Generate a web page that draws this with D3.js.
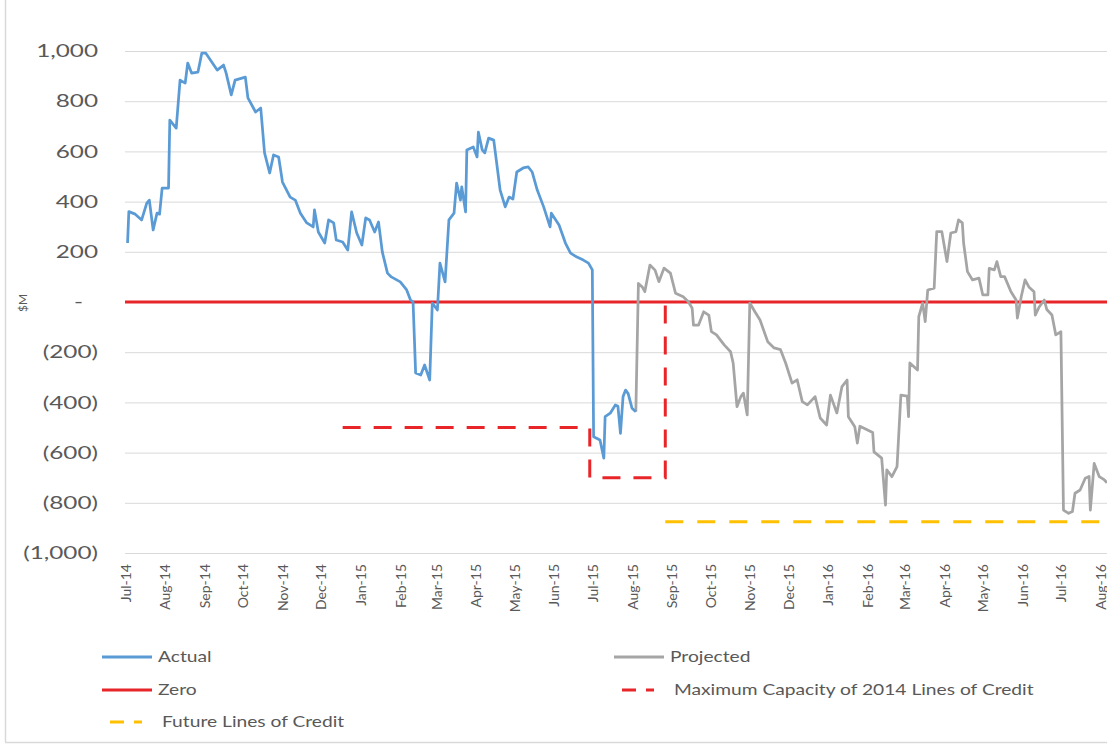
<!DOCTYPE html>
<html>
<head>
<meta charset="utf-8">
<script src="https://cdn.jsdelivr.net/npm/d3@7"></script>
<style>
  body { margin: 0; background: #ffffff; }
  svg { display: block; }
  text { font-family: Lato, "Open Sans", sans-serif; fill: #595959; }
</style>
</head>
<body>
<svg id="chart" width="1107" height="747"></svg>
<script>
// ---- Cash balance, $M ----
const actualDates = [
  "2014-07-03","2014-07-04","2014-07-09","2014-07-14","2014-07-18","2014-07-20","2014-07-23","2014-07-26","2014-07-28","2014-07-30",
  "2014-08-04","2014-08-05","2014-08-10","2014-08-13","2014-08-17","2014-08-19","2014-08-22","2014-08-27","2014-08-30",
  "2014-09-02","2014-09-11","2014-09-16","2014-09-18","2014-09-22","2014-09-25",
  "2014-10-03","2014-10-05","2014-10-11","2014-10-15","2014-10-18","2014-10-22","2014-10-25","2014-10-29",
  "2014-11-01","2014-11-07","2014-11-11","2014-11-15","2014-11-20","2014-11-25","2014-11-26","2014-11-29",
  "2014-12-04","2014-12-07","2014-12-11","2014-12-13","2014-12-18","2014-12-22","2014-12-25","2014-12-29",
  "2015-01-02","2015-01-05","2015-01-08","2015-01-12","2015-01-15","2015-01-18","2015-01-22","2015-01-25",
  "2015-02-01","2015-02-06","2015-02-09","2015-02-11","2015-02-13","2015-02-17","2015-02-20","2015-02-24","2015-02-26",
  "2015-03-02","2015-03-04","2015-03-08","2015-03-11","2015-03-15","2015-03-17","2015-03-20","2015-03-21","2015-03-24","2015-03-25","2015-03-30",
  "2015-04-02","2015-04-03","2015-04-06","2015-04-08","2015-04-11","2015-04-15","2015-04-18","2015-04-20","2015-04-24","2015-04-27","2015-04-30",
  "2015-05-03","2015-05-08","2015-05-12","2015-05-15","2015-05-19","2015-05-24","2015-05-29","2015-05-30",
  "2015-06-05","2015-06-10","2015-06-14","2015-06-19","2015-06-24","2015-06-28",
  "2015-07-01","2015-07-02","2015-07-07","2015-07-10","2015-07-11","2015-07-15","2015-07-19","2015-07-21","2015-07-23","2015-07-25","2015-07-27","2015-07-29",
  "2015-08-01","2015-08-04"
];
const actualValues = [
  235,360,350,327,394,406,287,354,350,454,
  454,725,693,884,872,952,912,916,992,
  992,924,944,912,825,884,
  896,813,757,773,594,514,586,578,
  478,418,406,354,315,299,367,279,
  235,327,315,247,239,207,359,275,
  227,335,327,279,319,199,115,100,
  80,48,8,0,-283,-291,-251,-311,-4,
  -32,155,80,327,354,474,406,459,359,606,618,
  578,677,606,594,653,645,526,446,379,418,410,
  518,534,538,518,446,379,299,354,
  307,235,195,179,167,155,
  128,-537,-550,-622,-457,-443,-410,-415,-523,-377,-351,-365,
  -423,-437
];

const projectedDates = [
  "2015-08-04","2015-08-06","2015-08-09","2015-08-11","2015-08-15","2015-08-19","2015-08-22","2015-08-26","2015-08-31",
  "2015-09-04","2015-09-10","2015-09-14","2015-09-17","2015-09-18","2015-09-22","2015-09-26","2015-09-30",
  "2015-10-02","2015-10-06","2015-10-12","2015-10-17","2015-10-19","2015-10-22","2015-10-25","2015-10-27","2015-10-30",
  "2015-11-01","2015-11-05","2015-11-09","2015-11-15","2015-11-20","2015-11-25","2015-11-29",
  "2015-12-04","2015-12-08","2015-12-12","2015-12-16","2015-12-22","2015-12-26","2015-12-31",
  "2016-01-03","2016-01-08","2016-01-12","2016-01-16","2016-01-17","2016-01-22","2016-01-24","2016-01-26",
  "2016-02-01","2016-02-05","2016-02-06","2016-02-12","2016-02-15","2016-02-16","2016-02-20","2016-02-24","2016-02-27",
  "2016-03-03","2016-03-04","2016-03-05","2016-03-11","2016-03-12","2016-03-15","2016-03-17","2016-03-19","2016-03-24","2016-03-26","2016-03-30",
  "2016-04-03","2016-04-06","2016-04-10","2016-04-12","2016-04-15","2016-04-16","2016-04-19","2016-04-23","2016-04-28",
  "2016-05-01","2016-05-05","2016-05-06","2016-05-10","2016-05-12","2016-05-15","2016-05-18","2016-05-23","2016-05-27","2016-05-28","2016-05-31",
  "2016-06-03","2016-06-06","2016-06-10","2016-06-11","2016-06-14","2016-06-18","2016-06-20","2016-06-24","2016-06-27",
  "2016-07-01","2016-07-03","2016-07-07","2016-07-10","2016-07-12","2016-07-16","2016-07-20","2016-07-23","2016-07-24","2016-07-27","2016-07-31",
  "2016-08-04","2016-08-06"
];
const projectedValues = [
  -437,74,60,41,147,127,81,135,115,
  35,21,1,-25,-92,-92,-39,-52,
  -118,-131,-171,-198,-243,-417,-377,-363,-450,
  -4,-39,-72,-158,-183,-190,-243,
  -323,-310,-397,-410,-377,-462,-490,
  -371,-442,-337,-311,-457,-497,-562,-495,
  -510,-520,-597,-622,-809,-669,-696,-656,-371,
  -375,-457,-243,-271,-58,-4,-78,48,55,280,280,
  161,275,280,327,315,235,121,88,95,
  28,28,134,128,161,101,101,41,8,-64,21,
  88,60,41,-52,-20,8,-30,-52,-131,
  -118,-829,-842,-835,-762,-749,-702,-695,-829,-643,-696,
  -709,-720
];

const zeroDates = ["2014-07-01","2016-08-06"];
const zeroValues = [0, 0];

const capacityDates = ["2014-12-18","2015-06-29","2015-06-29","2015-08-27","2015-08-27"];
const capacityValues = [-500, -500, -700, -700, 0];

const futureDates = ["2015-08-27","2016-08-06"];
const futureValues = [-875, -875];

const monthLabels = ["Jul-14","Aug-14","Sep-14","Oct-14","Nov-14","Dec-14","Jan-15","Feb-15","Mar-15","Apr-15","May-15","Jun-15",
  "Jul-15","Aug-15","Sep-15","Oct-15","Nov-15","Dec-15","Jan-16","Feb-16","Mar-16","Apr-16","May-16","Jun-16","Jul-16","Aug-16"];
const yTickValues = [-1000,-800,-600,-400,-200,0,200,400,600,800,1000];

const legendItems = [
  { label: "Actual", color: "#5b9bd5", dash: null, col: 0, row: 0 },
  { label: "Projected", color: "#a5a5a5", dash: null, col: 1, row: 0 },
  { label: "Zero", color: "#e8262a", dash: null, col: 0, row: 1 },
  { label: "Maximum Capacity of 2014 Lines of Credit", color: "#e8262a", dash: "14,10", col: 1, row: 1 },
  { label: "Future Lines of Credit", color: "#ffc000", dash: "14,10", col: 0, row: 2 }
];

// ---- layout ----
const parseDate = d3.timeParse("%Y-%m-%d");
const parseMonth = d3.timeParse("%b-%y");
const plot = { left: 125, right: 1107, top: 51, bottom: 553 };

const x = d3.scaleTime()
  .domain([parseDate("2014-07-01"), parseDate("2016-08-06")])
  .range([plot.left, plot.right]);
const y = d3.scaleLinear().domain([-1000, 1000]).range([plot.bottom, plot.top]);

const svg = d3.select("#chart");
svg.append("rect").attr("width", 1107).attr("height", 747).attr("fill", "#ffffff");

// outer frame
svg.append("line").attr("x1", 5.5).attr("x2", 5.5).attr("y1", 0).attr("y2", 742)
  .attr("stroke", "#d9d9d9").attr("stroke-width", 1.5);
svg.append("line").attr("x1", 5).attr("x2", 1107).attr("y1", 742.5).attr("y2", 742.5)
  .attr("stroke", "#d9d9d9").attr("stroke-width", 1.5);

// horizontal gridlines
const grid = svg.append("g").attr("transform", `translate(${plot.left},0)`)
  .call(d3.axisLeft(y).tickValues(yTickValues).tickSize(-(plot.right - plot.left)).tickFormat(""));
grid.select(".domain").remove();
grid.selectAll("line").attr("stroke", "#d9d9d9").attr("stroke-width", 1);

// y axis labels (accounting style)
const fmt = d3.format(",");
const yLabelScale = 1.35;
const yAxis = svg.append("g").attr("transform", `translate(${plot.left},0)`)
  .call(d3.axisLeft(y).tickValues(yTickValues).tickSize(0).tickPadding(0)
    .tickFormat(v => v === 0 ? "-" : v < 0 ? `(${fmt(-v)})` : fmt(v)));
yAxis.select(".domain").remove();
yAxis.selectAll("text")
  .attr("x", d => (-27 - (d === 0 ? 15 : 0)) / yLabelScale)
  .attr("transform", `scale(${yLabelScale},1)`)
  .style("font-size", "18px")
  .style("fill", "#595959");

svg.append("text")
  .attr("transform", "translate(27,303) rotate(-90)")
  .attr("text-anchor", "middle")
  .style("font-size", "12px")
  .text("$M");

// x axis with rotated month labels
const tickDates = monthLabels.map(m => parseMonth(m));
const xAxis = svg.append("g").attr("transform", `translate(0,${plot.bottom})`)
  .call(d3.axisBottom(x).tickValues(tickDates).tickSize(0).tickSizeOuter(0)
    .tickFormat((d, i) => monthLabels[i]));
xAxis.select(".domain").attr("stroke", "#d9d9d9").attr("stroke-width", 1);
xAxis.selectAll("text")
  .attr("transform", "rotate(-90)")
  .attr("x", -11).attr("y", 0).attr("dy", "0.36em")
  .attr("text-anchor", "end")
  .style("font-size", "14px")
  .style("fill", "#595959");

// series
const line = d3.line().x(d => x(d.date)).y(d => y(d.value));
const toPoints = (dates, values) => dates.map((d, i) => ({ date: parseDate(d), value: values[i] }));

svg.append("path").datum(toPoints(zeroDates, zeroValues))
  .attr("d", line).attr("fill", "none").attr("stroke", "#e8262a").attr("stroke-width", 3);

svg.append("path").datum(toPoints(capacityDates, capacityValues))
  .attr("d", line).attr("fill", "none").attr("stroke", "#e8262a").attr("stroke-width", 3)
  .attr("stroke-dasharray", "18,13");

svg.append("path").datum(toPoints(futureDates, futureValues))
  .attr("d", line).attr("fill", "none").attr("stroke", "#ffc000").attr("stroke-width", 3)
  .attr("stroke-dasharray", "18,14");

svg.append("path").datum(toPoints(projectedDates, projectedValues))
  .attr("d", line).attr("fill", "none").attr("stroke", "#a5a5a5").attr("stroke-width", 2.75)
  .attr("stroke-linejoin", "round");

svg.append("path").datum(toPoints(actualDates, actualValues))
  .attr("d", line).attr("fill", "none").attr("stroke", "#5b9bd5").attr("stroke-width", 2.75)
  .attr("stroke-linejoin", "round");

// legend
const colX = [102, 614];
const rowY = [657, 690, 722];
const legendTextScale = 1.28;
const legend = svg.append("g");
legendItems.forEach(item => {
  const gx = colX[item.col], gy = rowY[item.row];
  const g = legend.append("g").attr("transform", `translate(${gx},${gy})`);
  if (item.dash) {
    g.append("line").attr("x1", 8).attr("x2", 40).attr("y1", 0).attr("y2", 0)
      .attr("stroke", item.color).attr("stroke-width", 3).attr("stroke-dasharray", item.dash);
  } else {
    g.append("line").attr("x1", 0).attr("x2", 50).attr("y1", 0).attr("y2", 0)
      .attr("stroke", item.color).attr("stroke-width", 3);
  }
  g.append("text")
    .attr("x", (item.dash ? 60 : 56) / legendTextScale)
    .attr("dy", "0.35em")
    .attr("transform", `scale(${legendTextScale},1)`)
    .style("font-size", "15px")
    .text(item.label);
});
</script>
</body>
</html>
